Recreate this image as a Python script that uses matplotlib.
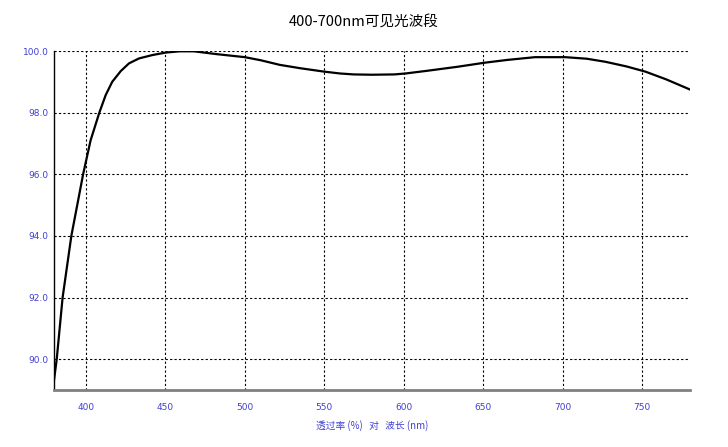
import matplotlib
matplotlib.use("Agg")
import matplotlib.pyplot as plt

plt.rcParams['font.family'] = ['Noto Sans CJK SC', 'DejaVu Sans']

# values
wavelength = [380, 381.7, 385.4, 390.9, 398.3, 403, 408.5, 412.5, 416.6, 422, 427.2,
              433.5, 442, 450.4, 459, 468, 482, 500, 510, 522, 535, 550, 560,
              568.5, 580, 594, 601, 615, 634, 650.8, 665, 682.5, 701.5, 715, 726.8,
              740, 752, 765, 780]
transmit = [89.32, 90.0, 92.0, 94.0, 96.0, 97.1, 98.0, 98.57, 99.0, 99.35, 99.6,
            99.76, 99.87, 99.95, 99.99, 99.99, 99.9, 99.8, 99.7, 99.55, 99.44,
            99.33, 99.27, 99.24, 99.23, 99.24, 99.27, 99.36, 99.49, 99.62, 99.71, 99.8,
            99.8, 99.75, 99.65, 99.5, 99.33, 99.08, 98.75]
xticks = [400, 450, 500, 550, 600, 650, 700, 750]
yticks = [90, 92, 94, 96, 98, 100]

blue = '#4040d0'

fig = plt.figure(figsize=(7.28, 4.47), dpi=100)
ax = fig.add_axes([0.0742, 0.1275, 0.8736, 0.7584])

ax.plot(wavelength, transmit, color='black', lw=1.6, zorder=3)

ax.set_xlim(380, 780)
ax.set_ylim(89.0, 100.0)
ax.set_xticks(xticks)
ax.set_yticks(yticks)
ax.set_yticklabels([f"{v:.1f}" for v in yticks])
ax.tick_params(axis='both', length=0, labelsize=6.5, labelcolor=blue)
ax.tick_params(axis='x', pad=9)
ax.tick_params(axis='y', pad=4)
for lab in ax.get_xticklabels() + ax.get_yticklabels():
    lab.set_family('DejaVu Sans')

ax.grid(True, color='black', linestyle=(0, (2, 2)), linewidth=0.8)

for s in ['top', 'right']:
    ax.spines[s].set_visible(False)
ax.spines['left'].set_color('black')
ax.spines['left'].set_linewidth(1.0)
ax.spines['bottom'].set_color('#808080')
ax.spines['bottom'].set_linewidth(2.0)

ax.set_xlabel("透过率 (%)   对   波长 (nm)", color=blue, fontsize=7, labelpad=6)
fig.text(0.5, 1 - 22 / 447, "400-700nm可见光波段", ha='center', va='center', fontsize=10.5)

fig.savefig("out.png", dpi=100)
